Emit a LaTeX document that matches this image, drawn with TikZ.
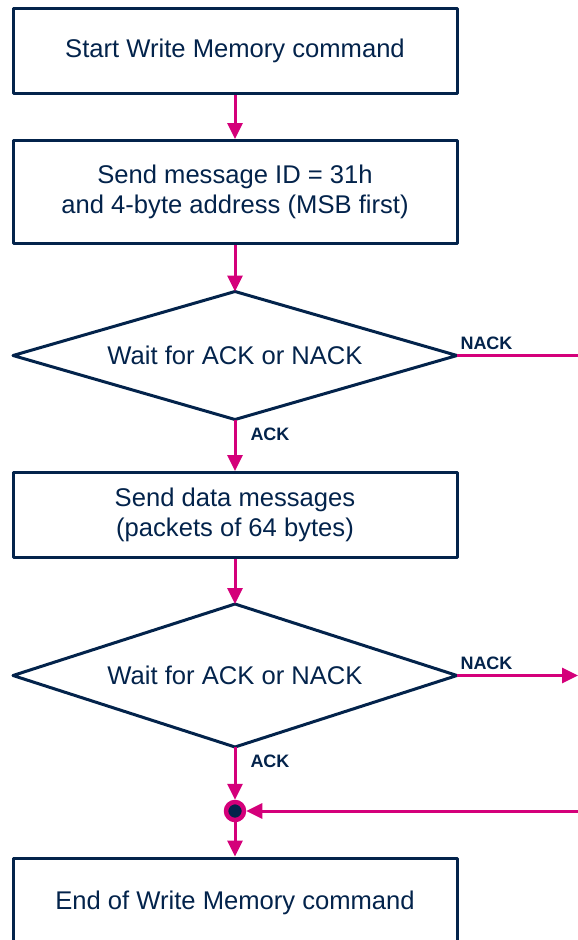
\documentclass[tikz,border=0pt]{standalone}
\usepackage{fontspec}
\setmainfont{Liberation Sans}
\usetikzlibrary{shapes.geometric,arrows.meta}
\definecolor{stnavy}{RGB}{3,35,75}
\definecolor{stpink}{RGB}{212,0,122}
\begin{document}
\begin{tikzpicture}[x=1pt,y=-1pt,line join=round,>={Triangle[length=16pt,width=15pt]},
  font=\fontsize{25.6}{30.5}\selectfont,
  box/.style={draw=stnavy,line width=3pt,minimum width=444pt,text=stnavy,align=center,inner sep=0pt},
  test/.style={shape=diamond,draw=stnavy,line width=3pt,minimum width=444pt,aspect=3.4,text=stnavy,inner sep=0pt,outer sep=0pt},
  flow/.style={draw=stpink,line width=3pt},
  tag/.style={text=stnavy,font=\fontsize{18}{20}\selectfont\bfseries,inner sep=2pt}]
\useasboundingbox (0,0) rectangle (578,940);
\clip (0,0) rectangle (578,940);
\node[box,minimum height=85pt] (start) at (235,51) {Start Write Memory command};
\node[box,minimum height=103pt] (send) at (235,192) {Send message ID = 31h\\and 4-byte address (MSB first)};
\node[test,minimum height=128pt] (wait1) at (235,355.5) {Wait for ACK or NACK};
\node[box,minimum height=85pt] (data) at (235,515) {Send data messages\\(packets of 64 bytes)};
\node[test,minimum height=143pt] (wait2) at (235,675.5) {Wait for ACK or NACK};
\node[circle,draw=stpink,fill=stnavy,line width=4.5pt,minimum size=18pt,inner sep=0pt] (join) at (235,811) {};
\node[box,minimum height=110pt] (stop) at (235,913) {};
\node[text=stnavy,anchor=base] at (235,909) {End of Write Memory command};
\coordinate (nack1) at (578,355.5);
\coordinate (nack2) at (578,675.5);
\coordinate (back) at (580,811);
% connectors
\draw[flow,->] (start) -- (send);
\draw[flow,->] (send) -- (wait1);
\draw[flow,->] (wait1) -- (data) node[tag,pos=.28,anchor=west,xshift=12pt]{ACK};
\draw[flow] (wait1.east) -- (nack1) node[tag,pos=0,anchor=south west,yshift=2pt]{NACK};
\draw[flow,->] (data) -- (wait2);
\draw[flow,->] (wait2.east) -- (nack2) node[tag,pos=0,anchor=south west,yshift=2pt]{NACK};
\draw[flow,->] (wait2) -- (join) node[tag,pos=.27,anchor=west,xshift=12pt]{ACK};
\draw[flow,->] (back) -- (join);
\draw[flow,->] (join) -- (stop);
\end{tikzpicture}
\end{document}
